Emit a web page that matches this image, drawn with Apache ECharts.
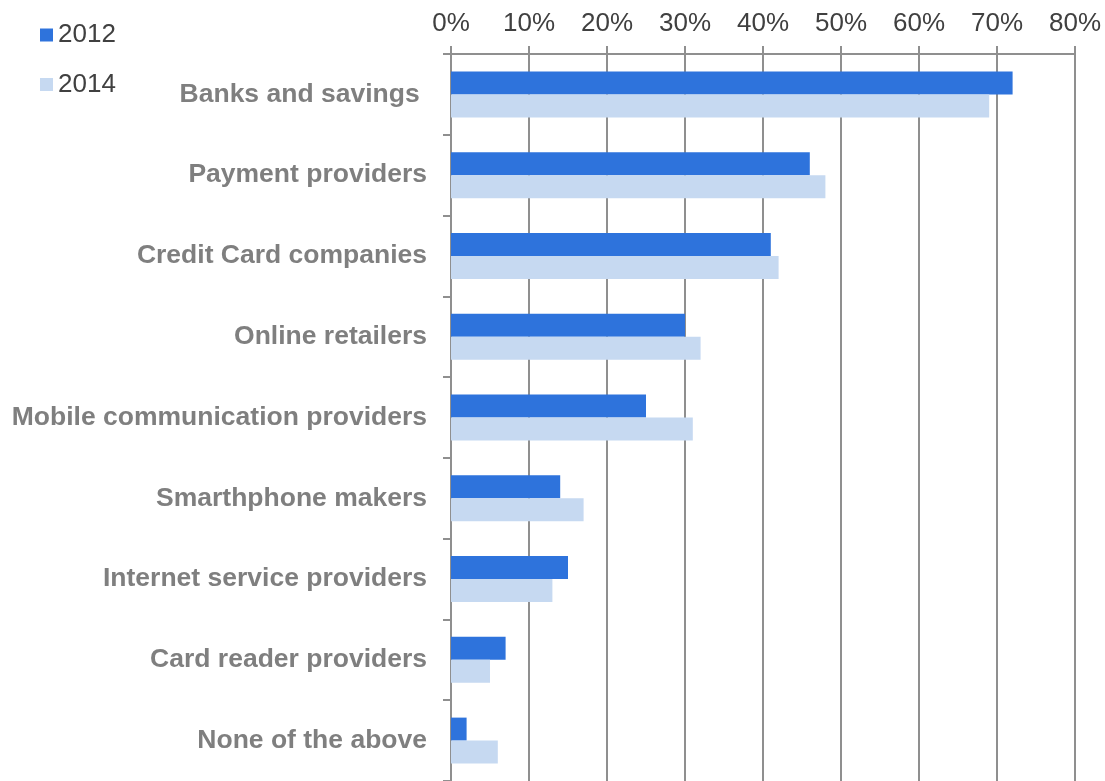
<!DOCTYPE html>
<html>
<head>
<meta charset="utf-8">
<script src="https://cdn.jsdelivr.net/npm/echarts@6/dist/echarts.min.js"></script>
<style>
  html, body { margin: 0; padding: 0; background: #fff; }
  #chart { width: 1105px; height: 781px; }
</style>
</head>
<body>
<div id="chart"></div>
<script>
// Who respondents trust with mobile payments, share of answers (%)
const categories = [
  'Banks and savings ',
  'Payment providers',
  'Credit Card companies',
  'Online retailers',
  'Mobile communication providers',
  'Smarthphone makers',
  'Internet service providers',
  'Card reader providers',
  'None of the above'
];
const values2012 = [72, 46, 41, 30, 25, 14, 15, 7, 2];
const values2014 = [69, 48, 42, 32, 31, 17, 13, 5, 6];
const seriesNames = ['2012', '2014'];

const font = 'Liberation Sans, Arial, sans-serif';
const lineColor = '#8f8f8f';

const chart = echarts.init(document.getElementById('chart'), null, { renderer: 'canvas' });

chart.setOption({
  animation: false,
  backgroundColor: '#ffffff',
  textStyle: { fontFamily: font },
  legend: {
    orient: 'vertical',
    left: 40,
    top: 22,
    padding: 0,
    itemWidth: 13,
    itemHeight: 13,
    itemGap: 23.5,
    icon: 'rect',
    textStyle: { fontFamily: font, fontSize: 26, color: '#404040', padding: [0, 0, 0, 0] },
    data: seriesNames
  },
  grid: {
    left: 451,
    top: 54,
    width: 624,
    height: 729,
    containLabel: false
  },
  xAxis: {
    type: 'value',
    position: 'top',
    min: 0,
    max: 80,
    interval: 10,
    axisLine: { show: true, lineStyle: { color: lineColor, width: 2 } },
    axisTick: { show: true, length: 8, lineStyle: { color: lineColor, width: 2 } },
    splitLine: { show: true, lineStyle: { color: lineColor, width: 2 } },
    axisLabel: {
      formatter: '{value}%',
      fontFamily: font,
      fontSize: 26,
      color: '#404040',
      margin: 17
    }
  },
  yAxis: {
    type: 'category',
    inverse: true,
    data: categories,
    axisLine: { show: true, lineStyle: { color: lineColor, width: 2 } },
    axisTick: { show: true, length: 8, lineStyle: { color: lineColor, width: 2 } },
    axisLabel: {
      fontFamily: font,
      fontSize: 26.5,
      fontWeight: 'bold',
      color: '#7f7f7f',
      margin: 24
    }
  },
  series: [
    {
      name: seriesNames[0],
      type: 'bar',
      data: values2012,
      barWidth: 23,
      barGap: '0%',
      itemStyle: { color: '#2e73dc' }
    },
    {
      name: seriesNames[1],
      type: 'bar',
      data: values2014,
      barWidth: 23,
      barGap: '0%',
      itemStyle: { color: '#c6d9f1' }
    }
  ]
});
</script>
</body>
</html>
